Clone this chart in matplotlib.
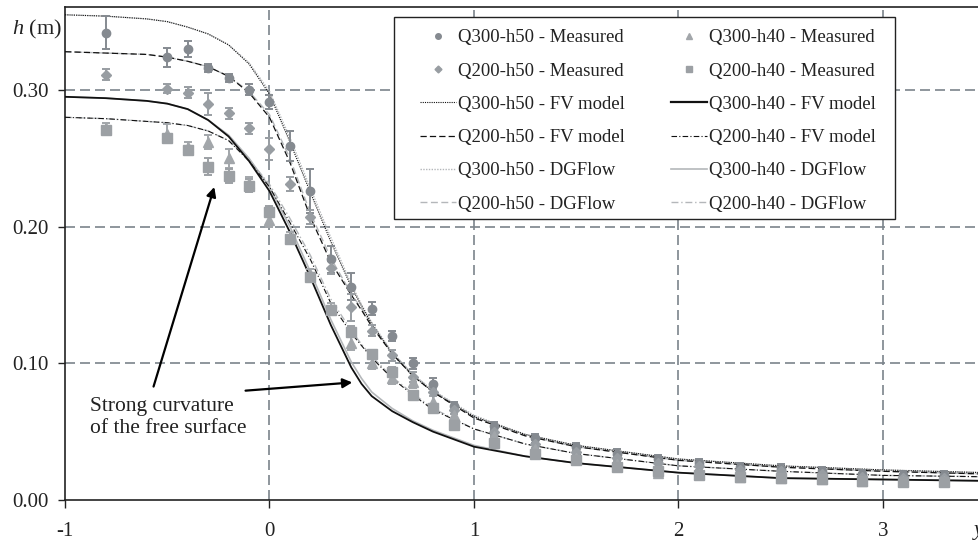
import matplotlib
matplotlib.use('Agg')
import matplotlib.pyplot as plt
from matplotlib.lines import Line2D
from matplotlib.patches import Rectangle

plt.rcParams['font.family'] = ['Liberation Serif', 'DejaVu Serif']
plt.rcParams['mathtext.fontset'] = 'custom'
plt.rcParams['mathtext.rm'] = 'Liberation Serif'
plt.rcParams['mathtext.it'] = 'Liberation Serif:italic'

# Mesures (x en m, h en m)
x_mes = [-0.8, -0.5, -0.4, -0.3, -0.2, -0.1, 0.0, 0.1, 0.2, 0.3, 0.4, 0.5, 0.6, 0.7,
         0.8, 0.9, 1.1, 1.3, 1.5, 1.7, 1.9, 2.1, 2.3, 2.5, 2.7, 2.9, 3.1, 3.3]

h_q300_h50 = [0.342, 0.324, 0.330, 0.316, 0.309, 0.300, 0.291, 0.259, 0.226, 0.176, 0.156, 0.140,
              0.120, 0.100, 0.085, 0.069, 0.054, 0.045, 0.039, 0.034, 0.030, 0.027, 0.024, 0.023,
              0.021, 0.019, 0.018, 0.018]
e_q300_h50 = [0.012, 0.007, 0.006, 0.003, 0.003, 0.004, 0.005, 0.011, 0.016, 0.010, 0.010, 0.005,
              0.004, 0.004, 0.004, 0.003, 0.003, 0.003, 0.003, 0.003, 0.003, 0.003, 0.003, 0.003,
              0.003, 0.003, 0.003, 0.003]

h_q200_h50 = [0.311, 0.301, 0.298, 0.290, 0.283, 0.272, 0.257, 0.231, 0.207, 0.170, 0.141, 0.124,
              0.106, 0.090, 0.079, 0.066, 0.050, 0.041, 0.035, 0.031, 0.027, 0.025, 0.022, 0.021,
              0.019, 0.017, 0.016, 0.016]
e_q200_h50 = [0.004, 0.003, 0.004, 0.008, 0.004, 0.004, 0.008, 0.005, 0.005, 0.005, 0.010, 0.004,
              0.004, 0.004, 0.003, 0.003, 0.003, 0.003, 0.003, 0.003, 0.003, 0.003, 0.003, 0.003,
              0.003, 0.003, 0.003, 0.003]

h_q300_h40 = [0.272, 0.268, 0.258, 0.262, 0.250, 0.232, 0.205, 0.192, 0.165, 0.140, 0.115, 0.100,
              0.089, 0.086, 0.072, 0.062, 0.047, 0.037, 0.031, 0.026, 0.020, 0.019, 0.017, 0.016,
              0.015, 0.014, 0.014, 0.014]
e_q300_h40 = [0.004, 0.007, 0.004, 0.005, 0.007, 0.004, 0.005, 0.004, 0.004, 0.004, 0.005, 0.004,
              0.004, 0.004, 0.004, 0.003, 0.003, 0.003, 0.003, 0.003, 0.003, 0.003, 0.003, 0.003,
              0.003, 0.003, 0.003, 0.003]

h_q200_h40 = [0.271, 0.265, 0.256, 0.244, 0.237, 0.230, 0.211, 0.191, 0.163, 0.139, 0.123, 0.107,
              0.094, 0.077, 0.067, 0.055, 0.042, 0.034, 0.029, 0.024, 0.021, 0.018, 0.017, 0.016,
              0.015, 0.014, 0.013, 0.013]
e_q200_h40 = [0.003, 0.003, 0.003, 0.006, 0.005, 0.005, 0.004, 0.003, 0.003, 0.003, 0.004, 0.003,
              0.003, 0.003, 0.003, 0.003, 0.003, 0.003, 0.003, 0.003, 0.003, 0.003, 0.003, 0.003,
              0.003, 0.003, 0.003, 0.003]

# Courbes des modèles
x_mod = [-1.0, -0.8, -0.6, -0.5, -0.4, -0.3, -0.2, -0.1, 0.0, 0.1, 0.2, 0.3, 0.4, 0.45, 0.5,
         0.6, 0.7, 0.8, 1.0, 1.25, 1.5, 2.0, 2.5, 3.0, 3.5]

fv_q300_h50 = [0.355, 0.354, 0.352, 0.350, 0.346, 0.341, 0.333, 0.319, 0.297, 0.262, 0.225, 0.189,
               0.156, 0.142, 0.129, 0.107, 0.091, 0.079, 0.061, 0.048, 0.040, 0.030, 0.025, 0.022, 0.020]
fv_q200_h50 = [0.328, 0.327, 0.326, 0.324, 0.321, 0.317, 0.310, 0.298, 0.280, 0.247, 0.207, 0.174,
               0.150, 0.139, 0.127, 0.107, 0.091, 0.079, 0.060, 0.047, 0.039, 0.029, 0.024, 0.021, 0.019]
fv_q300_h40 = [0.295, 0.294, 0.292, 0.290, 0.286, 0.278, 0.266, 0.248, 0.226, 0.196, 0.163, 0.128,
               0.097, 0.085, 0.076, 0.065, 0.057, 0.050, 0.039, 0.032, 0.027, 0.020, 0.016, 0.015, 0.014]
fv_q200_h40 = [0.280, 0.279, 0.277, 0.276, 0.274, 0.270, 0.263, 0.248, 0.229, 0.203, 0.176, 0.144,
               0.122, 0.113, 0.104, 0.089, 0.077, 0.066, 0.052, 0.041, 0.034, 0.025, 0.021, 0.018, 0.017]

dg_q300_h50 = [0.355, 0.354, 0.352, 0.350, 0.346, 0.341, 0.333, 0.320, 0.299, 0.265, 0.228, 0.192,
               0.158, 0.143, 0.130, 0.108, 0.092, 0.080, 0.062, 0.048, 0.040, 0.030, 0.025, 0.022, 0.020]
dg_q200_h50 = [0.328, 0.327, 0.326, 0.324, 0.321, 0.317, 0.310, 0.299, 0.282, 0.250, 0.210, 0.177,
               0.151, 0.140, 0.128, 0.108, 0.092, 0.080, 0.061, 0.047, 0.039, 0.029, 0.024, 0.021, 0.019]
dg_q300_h40 = [0.295, 0.294, 0.292, 0.290, 0.286, 0.278, 0.267, 0.250, 0.229, 0.200, 0.167, 0.132,
               0.101, 0.089, 0.079, 0.067, 0.058, 0.051, 0.040, 0.032, 0.027, 0.020, 0.016, 0.015, 0.014]
dg_q200_h40 = [0.280, 0.279, 0.277, 0.276, 0.274, 0.270, 0.263, 0.249, 0.231, 0.206, 0.179, 0.147,
               0.124, 0.114, 0.105, 0.090, 0.078, 0.067, 0.052, 0.041, 0.034, 0.025, 0.021, 0.018, 0.017]

GRIS_GRILLE = '#7c848b'
NOIR = '#111111'
GRIS_DG = '#b4b7ba'
TEXTE = '#222222'

fig = plt.figure(figsize=(9.79, 5.43), dpi=100)
ax = fig.add_axes([0.0664, 0.0792, 0.9336, 0.9079])

ax.set_xlim(-1, 3.47)
ax.set_ylim(0, 0.3607)

# grille pointillée
for xv in [0, 1, 2, 3]:
    ax.axvline(xv, color=GRIS_GRILLE, lw=1.2, dashes=(6, 3), zorder=0)
for yv in [0.1, 0.2, 0.3]:
    ax.axhline(yv, color=GRIS_GRILLE, lw=1.2, dashes=(6, 3), zorder=0)

# modèles
ax.plot(x_mod, dg_q300_h50, color=GRIS_DG, lw=1.0, dashes=(1, 1), zorder=2)
ax.plot(x_mod, dg_q200_h50, color=GRIS_DG, lw=1.0, dashes=(5, 2.5), zorder=2)
ax.plot(x_mod, dg_q300_h40, color=GRIS_DG, lw=1.2, zorder=2)
ax.plot(x_mod, dg_q200_h40, color=GRIS_DG, lw=1.0, dashes=(5, 2, 1, 2), zorder=2)

ax.plot(x_mod, fv_q300_h50, color=NOIR, lw=0.8, dashes=(1, 1), zorder=3)
ax.plot(x_mod, fv_q200_h50, color=NOIR, lw=0.9, dashes=(5, 2.5), zorder=3)
ax.plot(x_mod, fv_q300_h40, color=NOIR, lw=1.3, zorder=3)
ax.plot(x_mod, fv_q200_h40, color=NOIR, lw=0.8, dashes=(5, 2, 1, 2), zorder=3)

# mesures avec barres d'erreur
series = [
    (h_q300_h50, e_q300_h50, 'o', '#858a90', 6.0),
    (h_q200_h50, e_q200_h50, 'D', '#989da2', 5.0),
    (h_q300_h40, e_q300_h40, '^', '#a2a6aa', 6.5),
    (h_q200_h40, e_q200_h40, 's', '#9ca0a4', 6.5),
]
for h, e, m, c, ms in series:
    ax.errorbar(x_mes, h, yerr=e, fmt=m, color=c, ms=ms, mec=c, ecolor=c,
                elinewidth=1.4, capsize=3, capthick=1.4, zorder=4)

ax.set_xticks([-1, 0, 1, 2, 3])
ax.set_xticklabels(['-1', '0', '1', '2', '3'])
ax.set_yticks([0, 0.1, 0.2, 0.3])
ax.set_yticklabels(['0.00', '0.10', '0.20', '0.30'])
ax.tick_params(axis='x', direction='out', length=6, width=1, pad=9.5, labelsize=15, colors=TEXTE)
ax.tick_params(axis='y', direction='out', length=5, width=1, pad=7, labelsize=15, colors=TEXTE)
ax.spines['right'].set_visible(False)
for s in ['left', 'bottom', 'top']:
    ax.spines[s].set_linewidth(1.2)
    ax.spines[s].set_color(TEXTE)

# titres d'axes
fig.text(0.012, 0.946, r'$h$ (m)', fontsize=16, ha='left', va='center', color=TEXTE)
fig.text(0.993, 0.024, r'$y$ (m)', fontsize=16, ha='left', va='center', color=TEXTE)

# annotation
ax.text(-0.877, 0.0605, 'Strong curvature\nof the free surface', fontsize=15.5, ha='left', va='center',
        linespacing=1.2, color=TEXTE)
fleche = dict(arrowstyle='-|>', color='black', lw=1.6, mutation_scale=14, shrinkA=0, shrinkB=0)
ax.annotate('', xy=(-0.27, 0.229), xytext=(-0.567, 0.083), arrowprops=fleche)
ax.annotate('', xy=(0.405, 0.086), xytext=(-0.117, 0.080), arrowprops=fleche)

# cadre de la légende (plus large que celui de matplotlib)
cadre = Rectangle((0.36, 0.570), 0.548, 0.41, transform=ax.transAxes, facecolor='white',
                  edgecolor=TEXTE, lw=1.0, zorder=6)
ax.add_patch(cadre)

# légende
mk = lambda m, c, ms: Line2D([], [], ls='none', marker=m, color=c, mec=c, ms=ms)
ln = lambda c, lw, d: Line2D([], [], color=c, lw=lw, dashes=d) if d else Line2D([], [], color=c, lw=lw)
handles = [
    mk('o', '#858a90', 4), mk('D', '#989da2', 3.5),
    ln(NOIR, 0.8, (1, 1)), ln(NOIR, 0.9, (5, 2.5)),
    ln(GRIS_DG, 1.0, (1, 1)), ln(GRIS_DG, 1.0, (5, 2.5)),
    mk('^', '#a2a6aa', 4.5), mk('s', '#9ca0a4', 4.5),
    ln(NOIR, 1.6, None), ln(NOIR, 0.8, (5, 2, 1, 2)),
    ln(GRIS_DG, 1.2, None), ln(GRIS_DG, 1.0, (5, 2, 1, 2)),
]
labels = ['Q300-h50 - Measured', 'Q200-h50 - Measured', 'Q300-h50 - FV model',
          'Q200-h50 - FV model', 'Q300-h50 - DGFlow', 'Q200-h50 - DGFlow',
          'Q300-h40 - Measured', 'Q200-h40 - Measured', 'Q300-h40 - FV model',
          'Q200-h40 - FV model', 'Q300-h40 - DGFlow', 'Q200-h40 - DGFlow']
leg = ax.legend(handles, labels, ncol=2, loc='upper left', bbox_to_anchor=(0.3775, 0.9757),
                borderaxespad=0, fontsize=13.5, frameon=False, handlelength=1.9,
                handletextpad=0.12, labelspacing=0.86, columnspacing=2.45, borderpad=0.55)
leg.set_zorder(7)
for t in leg.get_texts():
    t.set_color(TEXTE)

fig.savefig('out.png', dpi=100)
